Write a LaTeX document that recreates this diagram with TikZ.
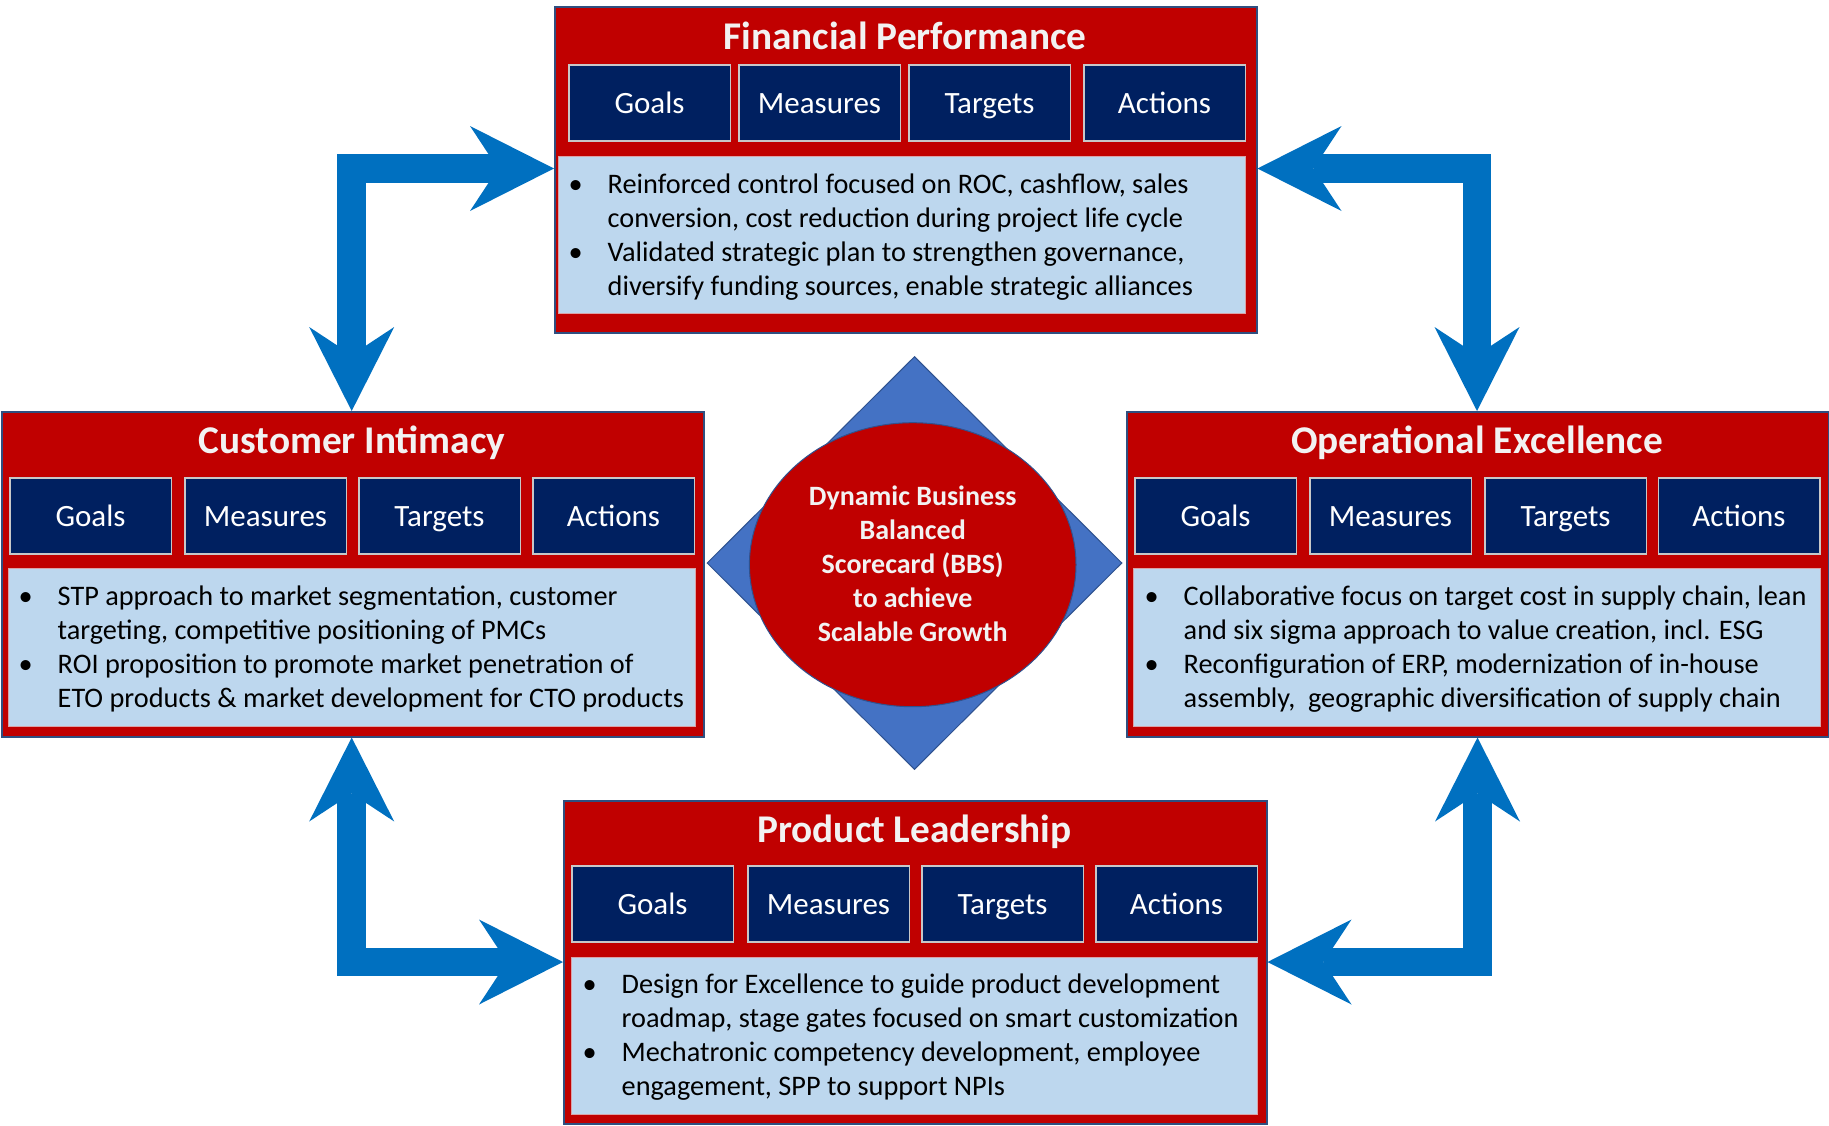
\documentclass[tikz,border=0pt]{standalone}
\usepackage{fontspec}
\setmainfont{Carlito}
\usetikzlibrary{shapes.geometric,arrows.meta,calc}
\definecolor{boxred}{HTML}{C00000}
\definecolor{boxedge}{HTML}{2F4F80}
\definecolor{navy}{HTML}{002060}
\definecolor{subedge}{HTML}{C8C8C8}
\definecolor{panelblue}{HTML}{BDD7EE}
\definecolor{paneledge}{HTML}{D9A3A8}
\definecolor{dia}{HTML}{4472C4}
\definecolor{diaedge}{HTML}{2F528F}
\definecolor{arrowblue}{HTML}{0070C0}
\definecolor{titlewhite}{HTML}{F2F2F2}
\newcommand\bulletlines[4]{\begin{tabular}{@{}p{39pt}@{}l@{}}\textbullet & #1\\ & #2\\ \textbullet & #3\\ & #4\end{tabular}}
\newcommand\subrow[6]{%
  \node[subbox] (#1g) at (#3,#2) {};
  \node[subbox] (#1m) at (#4,#2) {};
  \node[subbox] (#1t) at (#5,#2) {};
  \node[subbox] (#1a) at (#6,#2) {};
  \node[sublabel] (#1gl) at ($(#1g.north)+(0,49)$) {Goals};
  \node[sublabel] (#1ml) at ($(#1m.north)+(0,49)$) {Measures};
  \node[sublabel] (#1tl) at ($(#1t.north)+(0,49)$) {Targets};
  \node[sublabel] (#1al) at ($(#1a.north)+(0,49)$) {Actions};}
\tikzset{blockhead/.tip={Stealth[length=84pt,width=85pt,inset=28pt,line width=0pt]}}
\begin{document}
\begin{tikzpicture}[x=1pt,y=-1pt,
  bigbox/.style={draw=boxedge, line width=1.5pt, fill=boxred, anchor=north west, inner sep=0pt},
  subbox/.style={draw=subedge, line width=1.5pt, fill=navy, anchor=north west, inner sep=0pt, minimum width=161.5pt, minimum height=76pt},
  sublabel/.style={anchor=base, text=white, font=\fontsize{31}{37}\selectfont, inner sep=0pt},
  panelbox/.style={draw=paneledge, line width=1pt, fill=panelblue, anchor=north west, inner sep=0pt},
  titletext/.style={anchor=base, text=titlewhite, font=\fontsize{39.3}{47}\selectfont\bfseries, inner sep=0pt},
  bodytext/.style={anchor=north west, inner sep=0pt, text=black, font=\fontsize{28.3}{34}\selectfont},
  coretext/.style={inner sep=0pt, text=titlewhite, font=\fontsize{28}{34}\selectfont\bfseries},
  barrow/.style={draw=arrowblue, line width=28.5pt, line join=miter, arrows=blockhead-blockhead},
]
\fill[white] (0,0) rectangle (1829,1125);
\useasboundingbox (0,0) rectangle (1829,1125);

% Financial Performance
\node[bigbox, minimum width=702pt, minimum height=326pt] (FP) at (554,6) {};
\node[titletext] (FPtitle) at (905,49) {Financial Performance};
\subrow{FP}{64}{568}{738}{908}{1083}
\node[panelbox, minimum width=687pt, minimum height=157pt] (FPpanel) at (558,156) {};
\node[bodytext] (FPtext) at (568.5,169.5) {\bulletlines{Reinforced control focused on ROC, cashflow, sales}{conversion, cost reduction during project life cycle}{Validated strategic plan to strengthen governance,}{diversify funding sources, enable strategic alliances}};

% Customer Intimacy
\node[bigbox, minimum width=702pt, minimum height=325pt] (CI) at (1,411) {};
\node[titletext] (CItitle) at (352,453) {Customer Intimacy};
\subrow{CI}{477}{9}{184}{358}{532}
\node[panelbox, minimum width=687pt, minimum height=158pt] (CIpanel) at (8,568) {};
\node[bodytext] (CItext) at (18.5,581.2) {\bulletlines{STP approach to market segmentation, customer}{targeting, competitive positioning of PMCs}{ROI proposition to promote market penetration of}{ETO products \& market development for CTO products}};

% Operational Excellence
\node[bigbox, minimum width=702pt, minimum height=325pt] (OE) at (1126,411) {};
\node[titletext] (OEtitle) at (1477,453) {Operational Excellence};
\subrow{OE}{477}{1134}{1309}{1484}{1657.5}
\node[panelbox, minimum width=687pt, minimum height=158pt] (OEpanel) at (1133,568) {};
\node[bodytext] (OEtext) at (1144.5,581.2) {\bulletlines{Collaborative focus on target cost in supply chain, lean}{and six sigma approach to value creation, incl. ESG}{Reconfiguration of ERP, modernization of in-house}{assembly,\ \ geographic diversification of supply chain}};

% Product Leadership
\node[bigbox, minimum width=703pt, minimum height=323pt] (PL) at (563,800) {};
\node[titletext] (PLtitle) at (914.5,842) {Product Leadership};
\subrow{PL}{865}{571}{747}{921}{1095}
\node[panelbox, minimum width=686pt, minimum height=157pt] (PLpanel) at (571,957) {};
\node[bodytext] (PLtext) at (582.5,969.5) {\bulletlines{Design for Excellence to guide product development}{roadmap, stage gates focused on smart customization}{Mechatronic competency development, employee}{engagement, SPP to support NPIs}};

% Centre
\node[diamond, aspect=1, draw=diaedge, line width=1pt, fill=dia, minimum width=415pt, minimum height=413pt, inner sep=0pt] (dia) at (914.5,563) {};
\node[ellipse, draw=diaedge, line width=1pt, fill=boxred, minimum width=326.6pt, minimum height=284pt, inner sep=0pt] (core) at (912.7,564.7) {};
\node[coretext] (coretxt) at ($(core.center)+(0,2.3)$) {\begin{tabular}{@{}c@{}}Dynamic Business\\Balanced\\Scorecard (BBS)\\to achieve\\Scalable Growth\end{tabular}};

% Arrows
\coordinate (tl) at (351.7,168.5);
\coordinate (tr) at (1477,168.5);
\coordinate (bl) at (351.7,962);
\coordinate (br) at (1477.5,962);
\draw[barrow] (tl -| FP.west) -- (tl) -- (tl |- CI.north);
\draw[barrow] (tr -| FP.east) -- (tr) -- (tr |- OE.north);
\draw[barrow] (bl |- CI.south) -- (bl) -- (bl -| PL.west);
\draw[barrow] (br |- OE.south) -- (br) -- (br -| PL.east);
\end{tikzpicture}
\end{document}
